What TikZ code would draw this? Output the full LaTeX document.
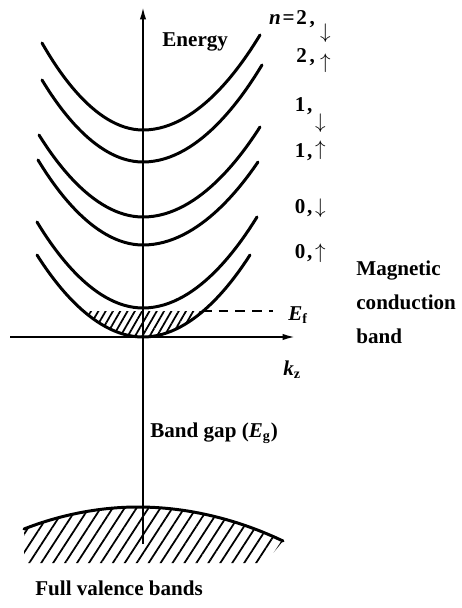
\documentclass[tikz,border=0pt]{standalone}
\usepackage{fontspec}
\setmainfont{Liberation Serif}
\usepackage{tikz}
\usetikzlibrary{arrows.meta,patterns.meta}
\tikzset{
  band/.style={line width=1.7pt,line cap=round},
  axis/.style={-{Latex[length=7pt,width=3.6pt]},line width=1pt},
  lbl/.style={inner sep=0pt,font=\fontsize{12}{15}\selectfont\bfseries},
  fermi/.style={line width=1.1pt,dash pattern=on 5.5pt off 4pt},
  vhatch/.style={pattern={Lines[angle=57,distance=5.7pt,line width=1pt]}},
  fhatch/.style={pattern={Lines[angle=60,distance=3.6pt,line width=1pt]}},
}
\newcommand{\spdown}[1]{\raisebox{#1}{$\downarrow$}}
\newcommand{\spup}[1]{\raisebox{#1}{$\uparrow$}}

\begin{document}
\begin{tikzpicture}[x=0.02cm,y=-0.02cm]
  \useasboundingbox (0,0) rectangle (461,608);
  \coordinate (origin) at (143,337);
  \coordinate (etop) at (143,7);
  \coordinate (ebot) at (143,544);
  \coordinate (kleft) at (10,337);
  \coordinate (kright) at (295,337);
  \coordinate (efl) at (84,311);
  \coordinate (efr) at (202,311);
  \coordinate (efend) at (273,311);

  % filled states and valence bands
  \fill[fhatch] (efl) parabola bend (origin) (efr) -- cycle;
  \fill[vhatch] (24,529) parabola bend (138,507) (283,541) -- (265,563) -- (24,563) -- cycle;
  \draw[band] (24,529) parabola bend (138,507) (283,541);

  % Landau levels
  \draw[band] (42,43) parabola bend (143,130) (260,35);
  \draw[band] (42,80) parabola bend (143,162) (262,65);
  \draw[band] (39,135) parabola bend (143,217) (260,127);
  \draw[band] (38,160) parabola bend (143,245) (258,162);
  \draw[band] (37,222) parabola bend (143,308) (257,217);
  \draw[band] (37,255) parabola bend (origin) (250,255);
  \draw[fermi] (efr) -- (efend);

  \draw[axis] (ebot) -- (etop);
  \draw[axis] (kleft) -- (kright);

  \node[lbl,anchor=base west] (energy) at (162,47) {Energy};
  \node[lbl,anchor=base west] (kz) at (283,375) {\textit{k}\textsubscript{z}};
  \node[lbl,anchor=base west] (ef) at (288,320) {\textit{E}\textsubscript{f}};
  \node[lbl,anchor=base west] (gap) at (150,437) {Band gap (\textit{E}\textsubscript{g})};
  \node[lbl,anchor=base west] (valence) at (35,595) {Full valence bands};
  \node[lbl,anchor=north west,align=left,font=\fontsize{12}{19.3}\selectfont\bfseries] (magnetic) at (356,261) {Magnetic\\conduction\\band};

  \node[lbl,anchor=base east] (n2d) at (331,25) {\textit{n}\hspace{1pt}=\hspace{1pt}2\hspace{1.5pt},\hspace{3pt}\spdown{-7.6pt}};
  \node[lbl,anchor=base east] (n2u) at (331,63) {2\hspace{1.5pt},\hspace{3pt}\spup{-3pt}};
  \node[lbl,anchor=base east] (n1d) at (326,112) {1\hspace{1pt},\hspace{1.5pt}\spdown{-9.3pt}};
  \node[lbl,anchor=base east] (n1u) at (326,157) {1\hspace{1pt},\hspace{1.5pt}\spup{1pt}};
  \node[lbl,anchor=base east] (n0d) at (326,213) {0\hspace{1pt},\hspace{1.5pt}\spdown{0pt}};
  \node[lbl,anchor=base east] (n0u) at (326,258) {0\hspace{1pt},\hspace{1.5pt}\spup{0pt}};
\end{tikzpicture}
\end{document}
